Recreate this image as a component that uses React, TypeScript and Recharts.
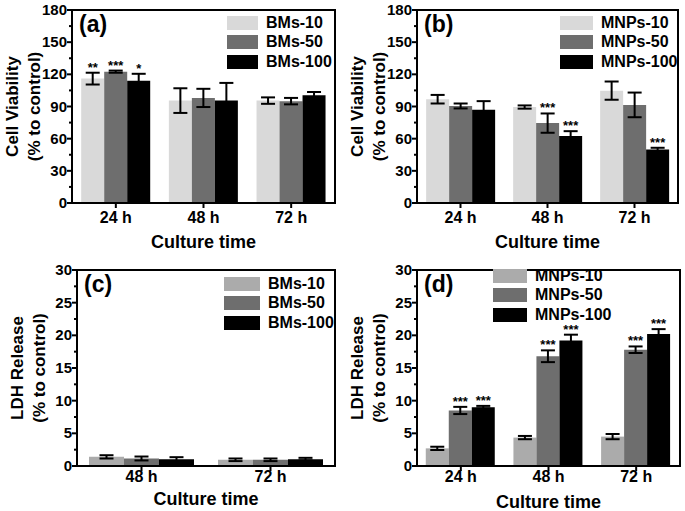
import React from "react";
import { BarChart, Bar, XAxis, YAxis, ErrorBar, LabelList, Legend, ReferenceLine } from "recharts";

const FONT = "'Liberation Sans', Arial, sans-serif";

// ---- (a) BMs cell viability ----
const timesABD = ["24 h", "48 h", "72 h"];
const bms10Via = [116, 95.5, 95.5];
const bms10ViaErr = [5.5, 11.5, 3];
const bms10ViaSig = ["**", "", ""];
const bms50Via = [122.5, 98, 95];
const bms50ViaErr = [1, 8.5, 3];
const bms50ViaSig = ["***", "", ""];
const bms100Via = [114, 95.5, 100.5];
const bms100ViaErr = [6.5, 16.5, 3];
const bms100ViaSig = ["*", "", ""];

// ---- (b) MNPs cell viability ----
const mnps10Via = [96.8, 89.5, 104.8];
const mnps10ViaErr = [4, 1.5, 8.5];
const mnps10ViaSig = ["", "", ""];
const mnps50Via = [90.5, 74.5, 91.5];
const mnps50ViaErr = [2.3, 9, 11.5];
const mnps50ViaSig = ["", "***", ""];
const mnps100Via = [87, 62.5, 50];
const mnps100ViaErr = [8, 4.5, 1.5];
const mnps100ViaSig = ["", "***", "***"];

// ---- (c) BMs LDH release ----
const timesC = ["48 h", "72 h"];
const bms10Ldh = [1.4, 0.95];
const bms10LdhErr = [0.25, 0.2];
const bms50Ldh = [1.15, 0.95];
const bms50LdhErr = [0.3, 0.2];
const bms100Ldh = [1.05, 1.05];
const bms100LdhErr = [0.3, 0.2];
const noSig2 = ["", ""];

// ---- (d) MNPs LDH release ----
const mnps10Ldh = [2.7, 4.35, 4.5];
const mnps10LdhErr = [0.25, 0.25, 0.4];
const mnps50Ldh = [8.5, 16.8, 17.8];
const mnps50LdhErr = [0.55, 0.9, 0.5];
const mnps100Ldh = [9.0, 19.2, 20.2];
const mnps100LdhErr = [0.2, 0.9, 0.75];
const mnps10LdhSig = ["", "", ""];
const allSig3 = ["***", "***", "***"];

const viaTicks = [0, 15, 30, 45, 60, 75, 90, 105, 120, 135, 150, 165, 180];
const ldhTicks = [0, 2.5, 5, 7.5, 10, 12.5, 15, 17.5, 20, 22.5, 25, 27.5, 30];

type Series = { name: string; values: number[]; errs: number[]; stars: string[]; fill: string };

type PanelProps = {
  letter: string;
  cats: string[];
  series: Series[];
  yMax: number;
  yTicks: number[];
  majorStep: number;
  yTitle: string;
  left: number;
  top: number;
  width: number;
  height: number;
  marginTop: number;
  marginRight: number;
  yAxisWidth: number;
  xAxisHeight: number;
  gap: string;
  tickGap: number;
  titleOffset: number;
  legendLeft: number;
  legendTop: number;
  legendBox: number;
};

const makeYTick = (step: number) => (props: any) => {
  const { x, y, payload } = props;
  const r = payload.value / step;
  const major = Math.abs(r - Math.round(r)) < 1e-6;
  const ax = x + 5;
  return (
    <g>
      <line x1={ax} x2={ax - (major ? 5 : 3)} y1={y} y2={y} stroke="#000" strokeWidth={2} />
      {major && (
        <text x={x} y={y} dy={5} textAnchor="end" fontSize={15} fontWeight={700} fontFamily={FONT} fill="#000">
          {payload.value}
        </text>
      )}
    </g>
  );
};

function Panel(p: PanelProps) {
  const rows = p.cats.map((c, i) => {
    const r: Record<string, any> = { cat: c };
    p.series.forEach((s, k) => {
      r[`v${k}`] = s.values[i];
      r[`e${k}`] = s.errs[i];
      r[`s${k}`] = s.stars[i];
    });
    return r;
  });
  const plotH = p.height - p.marginTop - p.xAxisHeight;
  const plotW = p.width - p.yAxisWidth - p.marginRight;
  const pxPerUnit = plotH / p.yMax;

  const yTitle = (lp: any) => {
    const vb = lp.viewBox;
    const cy = vb.y + vb.height / 2;
    const ax = vb.x + vb.width;
    const style = { fontSize: 17, fontWeight: 700, fontFamily: FONT, fill: "#000" };
    return (
      <g>
        <text x={ax - 60} y={cy} transform={`rotate(-90 ${ax - 60} ${cy})`} textAnchor="middle" dy={6} style={style}>
          {p.yTitle}
        </text>
        <text x={ax - 38} y={cy} transform={`rotate(-90 ${ax - 38} ${cy})`} textAnchor="middle" dy={6} style={style}>
          (% to control)
        </text>
      </g>
    );
  };

  // legend keeps the series order (recharts would sort by name)
  const legend = () => (
    <div style={{ fontFamily: FONT, fontWeight: 700, fontSize: 16, color: "#000" }}>
      {p.series.map((s) => (
        <div key={s.name} style={{ display: "flex", alignItems: "center", height: 19.5 }}>
          <span style={{ display: "inline-block", width: p.legendBox, height: 14, background: s.fill, marginRight: 8 }} />
          <span>{s.name}</span>
        </div>
      ))}
    </div>
  );

  return (
    <div style={{ position: "absolute", left: p.left, top: p.top, width: p.width, height: p.height }}>
      <BarChart
        width={p.width}
        height={p.height}
        data={rows}
        margin={{ top: p.marginTop, right: p.marginRight, left: 0, bottom: 0 }}
        barGap={0}
        barCategoryGap={p.gap}
      >
        <XAxis
          dataKey="cat"
          height={p.xAxisHeight}
          stroke="#000"
          axisLine={{ strokeWidth: 2 }}
          tickLine={{ strokeWidth: 2 }}
          tickSize={5}
          tickMargin={p.tickGap}
          tick={{ fill: "#000", fontSize: 16, fontWeight: 700, fontFamily: FONT }}
          label={{
            value: "Culture time",
            position: "insideBottom",
            offset: p.titleOffset,
            style: { fontSize: 18, fontWeight: 700, fontFamily: FONT, fill: "#000" },
          }}
        />
        <YAxis
          domain={[0, p.yMax]}
          ticks={p.yTicks}
          interval={0}
          width={p.yAxisWidth}
          stroke="#000"
          axisLine={{ strokeWidth: 2 }}
          tickLine={false}
          tickSize={3}
          tickMargin={2}
          tick={makeYTick(p.majorStep)}
          label={{ content: yTitle }}
        />
        {/* top edge of the plot frame */}
        <ReferenceLine y={p.yMax} stroke="#000" strokeWidth={2} ifOverflow="visible" />
        <Legend
          layout="vertical"
          align="center"
          verticalAlign="middle"
          content={legend}
          wrapperStyle={{ left: p.legendLeft, top: p.legendTop, width: "auto", height: "auto" }}
        />
        {p.series.map((s, k) => (
          <Bar key={s.name} dataKey={`v${k}`} name={s.name} fill={s.fill} isAnimationActive={false}>
            <ErrorBar dataKey={`e${k}`} width={7} strokeWidth={2} stroke="#000" direction="y" />
            <LabelList
              dataKey={`s${k}`}
              content={(lp: any) => {
                const { x, y, width, value, index } = lp;
                if (!value) return null;
                const errTop = Number(y) - s.errs[index] * pxPerUnit;
                return (
                  <text x={Number(x) + Number(width) / 2} y={errTop - 1} textAnchor="middle" fontSize={13} fontWeight={700} fontFamily={FONT} fill="#000">
                    {value}
                  </text>
                );
              }}
            />
          </Bar>
        ))}
      </BarChart>
      {/* right edge of the plot frame */}
      <div
        style={{
          position: "absolute",
          zIndex: 5,
          left: p.yAxisWidth + plotW - 1,
          top: p.marginTop - 1,
          width: 2,
          height: plotH + 2,
          background: "#000",
          pointerEvents: "none",
        }}
      />
      <div
        style={{
          position: "absolute",
          zIndex: 5,
          left: p.yAxisWidth + 7,
          top: p.marginTop + 2,
          fontFamily: FONT,
          fontWeight: 700,
          fontSize: 23,
          lineHeight: "24px",
          color: "#000",
        }}
      >
        ({p.letter})
      </div>
    </div>
  );
}

const LIGHT = "#d9d9d9";
const LIGHT2 = "#ababab";
const MID = "#6e6e6e";
const DARK = "#000000";

export default function App() {
  return (
    <div style={{ position: "absolute", left: 0, top: 0, width: 685, height: 511, background: "#fff", overflow: "hidden" }}>
      <Panel
        letter="a"
        cats={timesABD}
        series={[
          { name: "BMs-10", values: bms10Via, errs: bms10ViaErr, stars: bms10ViaSig, fill: LIGHT },
          { name: "BMs-50", values: bms50Via, errs: bms50ViaErr, stars: bms50ViaSig, fill: MID },
          { name: "BMs-100", values: bms100Via, errs: bms100ViaErr, stars: bms100ViaSig, fill: DARK },
        ]}
        yMax={180}
        yTicks={viaTicks}
        majorStep={30}
        yTitle="Cell Viability"
        left={0}
        top={0}
        width={340}
        height={252}
        marginTop={10}
        marginRight={5}
        yAxisWidth={72}
        xAxisHeight={49}
        gap="10.5%"
        tickGap={4}
        titleOffset={4}
        legendLeft={227}
        legendTop={13}
        legendBox={31}
      />
      <Panel
        letter="b"
        cats={timesABD}
        series={[
          { name: "MNPs-10", values: mnps10Via, errs: mnps10ViaErr, stars: mnps10ViaSig, fill: LIGHT },
          { name: "MNPs-50", values: mnps50Via, errs: mnps50ViaErr, stars: mnps50ViaSig, fill: MID },
          { name: "MNPs-100", values: mnps100Via, errs: mnps100ViaErr, stars: mnps100ViaSig, fill: DARK },
        ]}
        yMax={180}
        yTicks={viaTicks}
        majorStep={30}
        yTitle="Cell Viability"
        left={340}
        top={0}
        width={345}
        height={252}
        marginTop={10}
        marginRight={7}
        yAxisWidth={77}
        xAxisHeight={49}
        gap="10.5%"
        tickGap={4}
        titleOffset={4}
        legendLeft={220}
        legendTop={13}
        legendBox={33}
      />
      <Panel
        letter="c"
        cats={timesC}
        series={[
          { name: "BMs-10", values: bms10Ldh, errs: bms10LdhErr, stars: noSig2, fill: LIGHT2 },
          { name: "BMs-50", values: bms50Ldh, errs: bms50LdhErr, stars: noSig2, fill: MID },
          { name: "BMs-100", values: bms100Ldh, errs: bms100LdhErr, stars: noSig2, fill: DARK },
        ]}
        yMax={30}
        yTicks={ldhTicks}
        majorStep={5}
        yTitle="LDH Release"
        left={0}
        top={255}
        width={340}
        height={256}
        marginTop={15}
        marginRight={5}
        yAxisWidth={77}
        xAxisHeight={45}
        gap="9.3%"
        tickGap={0}
        titleOffset={6}
        legendLeft={224}
        legendTop={19}
        legendBox={36}
      />
      <Panel
        letter="d"
        cats={timesABD}
        series={[
          { name: "MNPs-10", values: mnps10Ldh, errs: mnps10LdhErr, stars: mnps10LdhSig, fill: LIGHT2 },
          { name: "MNPs-50", values: mnps50Ldh, errs: mnps50LdhErr, stars: allSig3, fill: MID },
          { name: "MNPs-100", values: mnps100Ldh, errs: mnps100LdhErr, stars: allSig3, fill: DARK },
        ]}
        yMax={30}
        yTicks={ldhTicks}
        majorStep={5}
        yTitle="LDH Release"
        left={340}
        top={255}
        width={345}
        height={256}
        marginTop={15}
        marginRight={5}
        yAxisWidth={77}
        xAxisHeight={45}
        gap="10%"
        tickGap={0}
        titleOffset={3}
        legendLeft={153}
        legendTop={11}
        legendBox={34}
      />
    </div>
  );
}
